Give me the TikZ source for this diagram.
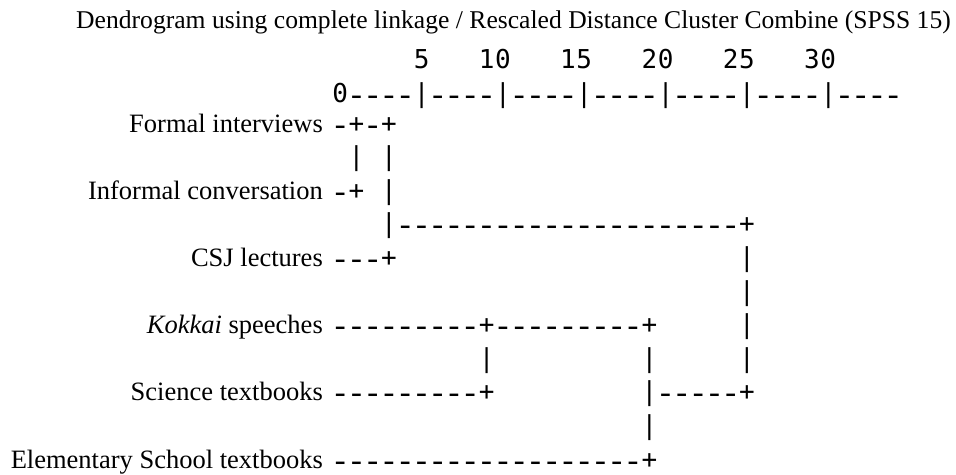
\documentclass[tikz,border=0pt]{standalone}
\usepackage{fontspec}
\usepackage{graphicx}
\setmainfont{Liberation Serif}
\newfontfamily\asciifont{DejaVu Sans Mono}
\newlength\asciiw
\setlength\asciiw{16.27pt}
\def\asciirow#1{\asciirowi#1\relax}
\def\asciirowi#1{\ifx\relax#1\else\makebox[\asciiw]{\ifx.#1\else\ifx-#1\raisebox{-3pt}[0pt][0pt]{\scalebox{1.3}[1.15]{-}}\else#1\fi\fi}\expandafter\asciirowi\fi}
\tikzset{
  lbl/.style={anchor=base east, inner sep=0pt, font=\fontsize{26.5}{30}\selectfont},
  ttl/.style={anchor=base, inner sep=0pt, font=\fontsize{25.6}{30}\selectfont},
  art/.style={anchor=base west, inner sep=0pt, font=\asciifont\fontsize{26}{30}\selectfont},
}
\begin{document}
\begin{tikzpicture}[x=1pt,y=-1pt]
\useasboundingbox (0,0) rectangle (956,474);
\def\xa{331.9}
\def\xl{323}
\node[ttl] (title) at (513.5,28) {Dendrogram using complete linkage / Rescaled Distance Cluster Combine (SPSS 15)};
\node[art] (nums) at (\xa,68) {\asciirow{.....5...10...15...20...25...30}};
\node[art] (axis) at (\xa,102) {\asciirow{0----|----|----|----|----|----|----}};
% rows
\node[lbl] (formal) at (\xl,132) {Formal interviews};
\node[art] (r0) at (\xa,132) {\asciirow{-+-+}};
\node[art] (r1) at (\xa,165.6) {\asciirow{.|.|}};
\node[lbl] (informal) at (\xl,199.2) {Informal conversation};
\node[art] (r2) at (\xa,199.2) {\asciirow{-+.|}};
\node[art] (r3) at (\xa,232.8) {\asciirow{...|---------------------+}};
\node[lbl] (csj) at (\xl,266.4) {CSJ lectures};
\node[art] (r4) at (\xa,266.4) {\asciirow{---+.....................|}};
\node[art] (r5) at (\xa,300) {\asciirow{.........................|}};
\node[lbl] (kokkai) at (\xl,333.6) {\textit{Kokkai} speeches};
\node[art] (r6) at (\xa,333.6) {\asciirow{---------+---------+.....|}};
\node[art] (r7) at (\xa,367.2) {\asciirow{.........|.........|.....|}};
\node[lbl] (science) at (\xl,400.8) {Science textbooks};
\node[art] (r8) at (\xa,400.8) {\asciirow{---------+.........|-----+}};
\node[art] (r9) at (\xa,434.4) {\asciirow{...................|}};
\node[lbl] (elem) at (\xl,468) {Elementary School textbooks};
\node[art] (r10) at (\xa,468) {\asciirow{-------------------+}};
\end{tikzpicture}
\end{document}
